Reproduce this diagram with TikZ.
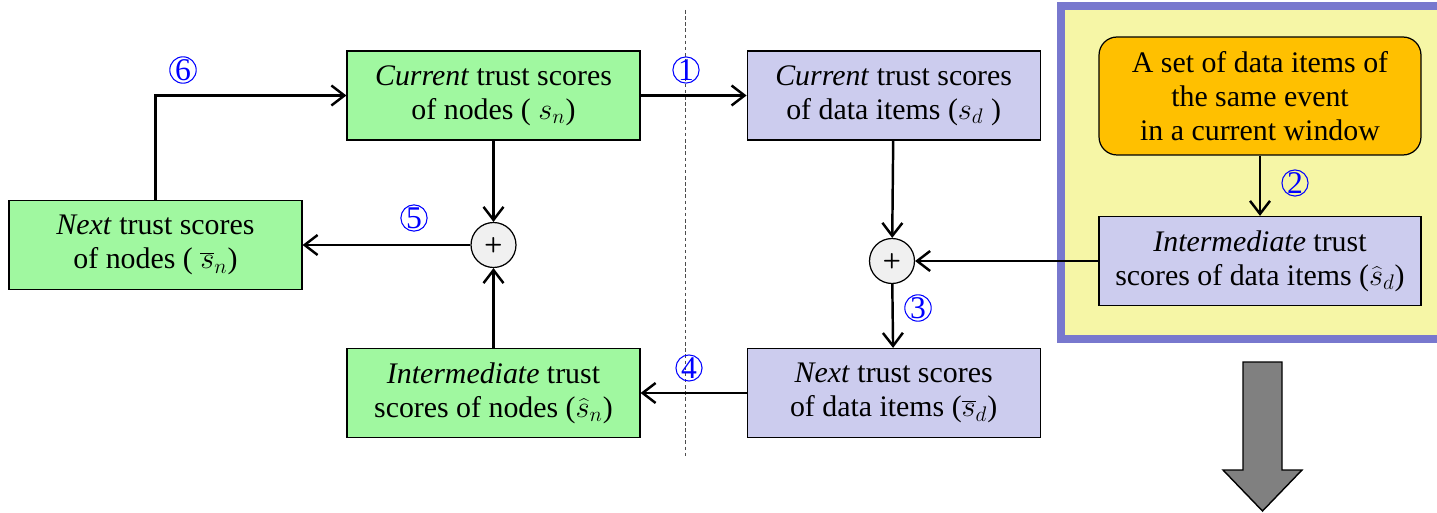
\documentclass[tikz,border=0pt]{standalone}
\usepackage{fontspec}
\setmainfont{Liberation Serif}
\usepackage{xcolor}
\usetikzlibrary{arrows.meta,positioning}
\definecolor{nodegreen}{HTML}{A0F8A0}
\definecolor{datablue}{HTML}{CCCCEE}
\definecolor{paleyellow}{HTML}{F6F6A6}
\definecolor{setorange}{HTML}{FFC000}
\definecolor{framepurple}{HTML}{7878CE}

\begin{document}
\begin{tikzpicture}[x=0.02cm, y=-0.02cm, line width=1.4pt, >={Straight Barb[length=2.6mm, width=4mm]},
  every node/.style={align=center, font=\fontsize{17}{19.5}\selectfont},
  nodebox/.style={draw, line width=0.7pt, fill=nodegreen, minimum width=5.86cm, minimum height=1.78cm},
  databox/.style={draw, line width=0.7pt, fill=datablue, minimum width=5.86cm, minimum height=1.78cm},
  sumnode/.style={circle, draw, line width=0.7pt, fill=black!6, minimum size=0.9cm, inner sep=0pt, font=\sffamily\bfseries\large},
  stepnum/.style={circle, draw=blue, text=blue, line width=0.6pt, minimum size=0.5cm, inner sep=0pt, font=\fontsize{18}{18}\selectfont}]
\useasboundingbox (0,0) rectangle (1437,513);
% data event window
\draw[fill=paleyellow, draw=framepurple, line width=5pt] (1061,6) rectangle (1450,339);
\draw[dash pattern=on 2pt off 1.5pt, line width=0.5pt, black!70] (685,10) -- (685,458);
\node[nodebox] (sn) at (493.5,95.5) {\textit{Current} trust scores\\of nodes ( $s_n$)};
\node[nodebox] (nsn) at (155.5,245) {\textit{Next} trust scores\\of nodes ( $\overline{s}_n$)};
\node[nodebox] (isn) at (493.5,393) {\textit{Intermediate} trust\\scores of nodes ($\widehat{s}_n$)};
\node[databox, right=2.12cm of sn] (sd) {\textit{Current} trust scores\\of data items ($s_d$ )};
\node[databox, right=2.12cm of isn] (nsd) {\textit{Next} trust scores\\of data items ($\overline{s}_d$)};
\node[sumnode] (plusn) at (493.5,245) {+};
\node[sumnode] (plusd) at (892,261) {+};
\node[draw, line width=0.7pt, fill=setorange, rounded corners=0.36cm, minimum width=6.44cm, minimum height=2.36cm] (set) at (1260,96) {A set of data items of\\the same event\\in a current window};
\node[databox, minimum width=6.44cm] (isd) at (1260,261) {\textit{Intermediate} trust\\scores of data items ($\widehat{s}_d$)};
% step numbers
\node[stepnum] (n1) at (686,70) {1};
\node[stepnum] (n2) at (1295,183) {2};
\node[stepnum] (n3) at (918,308) {3};
\node[stepnum] (n4) at (689,368) {4};
\node[stepnum] (n5) at (414,218) {5};
\node[stepnum] (n6) at (183,70) {6};
\draw[->] (sn) -- (sd); \draw[->] (set) -- (isd); \draw[->] (sd) -- (plusd); \draw[->] (isd) -- (plusd); \draw[->] (plusd) -- (nsd);
\draw[->] (nsd) -- (isn); \draw[->] (isn) -- (plusn); \draw[->] (sn) -- (plusn); \draw[->] (plusn) -- (nsn); \draw[->] (nsn.north) |- (sn.west);
% output arrow
\draw[fill=black!50, line width=0.8pt] (1243,362) -- (1282,362) -- (1282,470) -- (1302,470) -- (1262.5,511) -- (1223,470) -- (1243,470) -- cycle;
\end{tikzpicture}
\end{document}
